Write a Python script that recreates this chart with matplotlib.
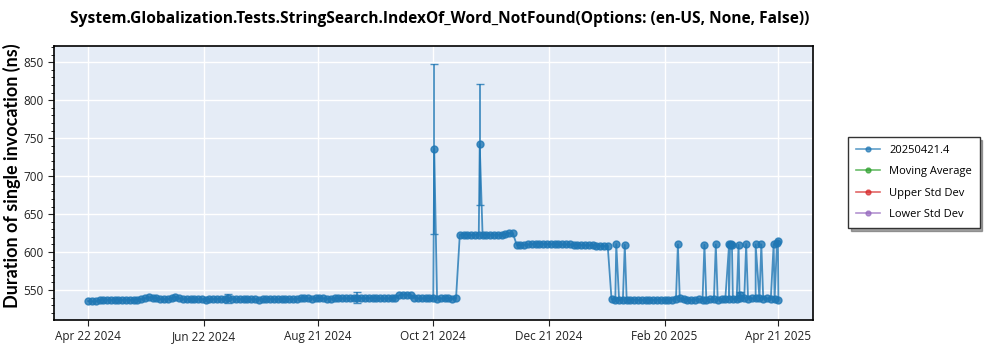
import numpy as np
import pandas as pd
import matplotlib
matplotlib.use("Agg")
import matplotlib.pyplot as plt
import matplotlib.dates as mdates

# ---------------- data ----------------
series_label = "20250421.4"
title = "System.Globalization.Tests.StringSearch.IndexOf_Word_NotFound(Options: (en-US, None, False))"

# regular runs, every 2 days from 2024-04-22 to 2025-04-21
regular_start = "2024-04-22"
regular_end = "2025-04-21"
regular_values = [
    535.5, 535, 535, 536.5, 537.5, 537.5, 537, 537.5, 537, 537,
    537.5, 537, 537, 537.5, 538, 539, 540.5, 540, 539, 538,
    538, 538, 539, 541, 539, 538, 538, 538, 538.5, 538,
    538, 537.5, 538, 538, 538.5, 538, 538.5, 539, 538.5, 538,
    538, 538.5, 538, 538, 538, 537.5, 538, 538, 538.5, 538,
    538, 538, 538.5, 538, 538, 538.5, 539, 539.5, 539, 538.5,
    539, 539.5, 539, 538.5, 538.5, 539, 539, 539, 539, 539,
    539, 540, 539.5, 539, 539.5, 539.5, 539, 539, 539, 539,
    539, 540, 543, 544, 544, 543.5, 540, 539, 539, 539,
    539, 539, 538.5, 539, 539, 539, 538.5, 539, 623, 623,
    623, 622.5, 623, 623, 623, 622.5, 623, 623, 623, 623,
    623.5, 625, 624.5, 609.5, 609, 609.5, 610, 610.5, 611, 611,
    611, 610.5, 610.5, 610.5, 610, 610, 610, 610, 609.5, 609.5,
    609.5, 609, 609, 609, 608.5, 608.5, 608, 608, 538, 537.5,
    537, 537.5, 537, 537, 537.5, 537, 537, 537.5, 537, 537,
    537.5, 537.5, 537, 537, 537.5, 538.5, 539, 538, 537.5, 537.5,
    537.5, 538, 537.5, 537.5, 538, 538, 537.5, 538, 538, 538,
    538, 538.5, 539, 539, 538.5, 539, 539, 539, 538.5, 539,
    538.5, 538, 537.5,
]

# extra runs (outliers / same-day reruns)
extra_dates = [
    "2024-10-21 12:00", "2024-11-14 12:00",
    "2025-01-25 12:00", "2025-01-30 00:00", "2025-02-27 00:00",
    "2025-03-13 00:00", "2025-03-19 00:00", "2025-03-26 00:00",
    "2025-03-26 12:00", "2025-03-27 00:00", "2025-03-27 12:00",
    "2025-03-31 00:00", "2025-03-31 12:00", "2025-04-04 00:00",
    "2025-04-09 00:00", "2025-04-12 00:00", "2025-04-18 12:00",
    "2025-04-20 06:00", "2025-04-20 18:00",
]
extra_values = [
    736, 742,
    610.5, 609.5, 610, 609.5, 610, 610, 609.5, 610, 609,
    609.5, 544, 610.5, 610, 610, 610.5, 612, 614,
]

# standard deviation bars that are visible
err_dates = ["2024-07-05 00:00", "2024-09-11 00:00", "2024-10-21 12:00",
             "2024-11-14 12:00", "2025-03-31 12:00"]
err_sizes = [6, 7, 112, 80, 3]

legend_labels = [series_label, "Moving Average", "Upper Std Dev", "Lower Std Dev"]
legend_colors = ["#1f77b4", "#2ca02c", "#d62728", "#9467bd"]

x_tick_dates = ["2024-04-22", "2024-06-22", "2024-08-21", "2024-10-21",
                "2024-12-21", "2025-02-20", "2025-04-21"]
x_tick_labels = ["Apr 22 2024", "Jun 22 2024", "Aug 21 2024", "Oct 21 2024",
                 "Dec 21 2024", "Feb 20 2025", "Apr 21 2025"]
y_ticks = [550, 600, 650, 700, 750, 800, 850]

# ---------------- build ----------------
reg_dates = pd.date_range(regular_start, regular_end, freq="2D")
df = pd.concat([
    pd.DataFrame({"date": reg_dates, "value": regular_values}),
    pd.DataFrame({"date": pd.to_datetime(extra_dates, format="%Y-%m-%d %H:%M"),
                  "value": extra_values}),
]).sort_values("date").reset_index(drop=True)

plt.rcParams["font.family"] = ["Open Sans", "DejaVu Sans"]

fig = plt.figure(figsize=(10, 3.5), dpi=100)
ax = fig.add_axes([0.054, 0.0857, 0.759, 0.783])
ax.set_facecolor("#E5ECF6")

blue = legend_colors[0]
ax.plot(df["date"], df["value"], color=blue, lw=1.3, marker="o", ms=5.0,
        alpha=0.8, zorder=3)

ed = pd.to_datetime(err_dates, format="%Y-%m-%d %H:%M")
ev = [df.loc[df["date"] == d, "value"].iloc[0] for d in ed]
ax.errorbar(ed, ev, yerr=err_sizes, fmt="none", ecolor=blue, elinewidth=1.3,
            capsize=3, capthick=1, alpha=0.8, zorder=3)

ax.set_ylim(510.5, 871.5)
ax.set_xlim(pd.Timestamp("2024-04-04"), pd.Timestamp("2025-05-09 06:00"))
ax.set_xticks(pd.to_datetime(x_tick_dates))
ax.set_xticklabels(x_tick_labels)
ax.set_yticks(y_ticks)
ax.yaxis.set_minor_locator(matplotlib.ticker.MultipleLocator(10))
ax.tick_params(axis="both", labelsize=8.5, colors="#222222", length=4)
ax.tick_params(axis="y", which="minor", length=2)
ax.grid(True, color="white", lw=1.0)
ax.set_axisbelow(True)
for s in ax.spines.values():
    s.set_color("black")
    s.set_linewidth(1.2)

ax.set_ylabel("Duration of single invocation (ns)", fontsize=13,
              fontweight="bold", family=["Lato", "DejaVu Sans"])
ax.yaxis.set_label_coords(-0.043, 0.526)
fig.text(0.44, 0.947, title, ha="center", va="center", fontsize=11.2,
         fontweight="bold")

handles = [matplotlib.lines.Line2D([], [], color=c, marker="o", ms=3.5,
                                    lw=1.2, alpha=0.7) for c in legend_colors]
leg = fig.legend(handles, legend_labels, loc="upper left",
                 bbox_to_anchor=(0.848, 0.609), fontsize=8, frameon=True,
                 fancybox=False, shadow=True, edgecolor="#333333",
                 handlelength=2.2, labelspacing=0.95, borderpad=0.7,
                 borderaxespad=0.0, handletextpad=0.8)
leg.get_frame().set_linewidth(1.0)

fig.savefig("out.png", dpi=100)
